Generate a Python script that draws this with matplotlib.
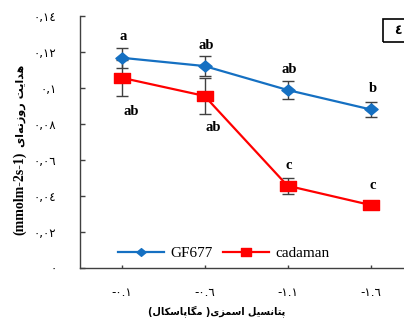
import matplotlib
matplotlib.use("Agg")
import matplotlib.pyplot as plt
from matplotlib.path import Path
from matplotlib.patches import Rectangle

# ---------------- data ----------------
categories = ["-٠.١", "-٠.٦", "-١.١", "-١.٦"]
gf677 = [0.1168, 0.1122, 0.0989, 0.0881]
gf677_err = [0.0056, 0.0055, 0.0048, 0.0042]
cadaman = [0.1057, 0.0956, 0.0457, 0.0350]
cadaman_err = [0.0100, 0.0100, 0.0045, 0.0015]
gf677_letters = ["a", "ab", "ab", "b"]
cadaman_letters = ["ab", "ab", "c", "c"]
y_ticks = [0, 0.02, 0.04, 0.06, 0.08, 0.10, 0.12, 0.14]
y_tick_labels = ["٠", "٠,٠٢", "٠,٠٤", "٠,٠٦", "٠,٠٨", "٠,١", "٠,١٢", "٠,١٤"]
series_names = ["GF677", "cadaman"]
x_label = "پتانسیل اسمزی( مگاپاسکال)"
y_label_fa = "هدایت روزنه‌ای"
y_label_en = "(mmolm-2s-1)"
panel_label = "٤"

# ------------- minimal Persian shaping for display -------------
FORMS = {
    '\u0627': ('\uFE8D', '\uFE8E', None, None),
    '\u062F': ('\uFEA9', '\uFEAA', None, None),
    '\u0631': ('\uFEAD', '\uFEAE', None, None),
    '\u0632': ('\uFEAF', '\uFEB0', None, None),
    '\u0648': ('\uFEED', '\uFEEE', None, None),
    '\u067E': ('\uFB56', '\uFB57', '\uFB58', '\uFB59'),
    '\u062A': ('\uFE95', '\uFE96', '\uFE97', '\uFE98'),
    '\u0646': ('\uFEE5', '\uFEE6', '\uFEE7', '\uFEE8'),
    '\u0633': ('\uFEB1', '\uFEB2', '\uFEB3', '\uFEB4'),
    '\u06CC': ('\uFBFC', '\uFBFD', '\uFBFE', '\uFBFF'),
    '\u0644': ('\uFEDD', '\uFEDE', '\uFEDF', '\uFEE0'),
    '\u0645': ('\uFEE1', '\uFEE2', '\uFEE3', '\uFEE4'),
    '\u06AF': ('\uFB92', '\uFB93', '\uFB94', '\uFB95'),
    '\u06A9': ('\uFB8E', '\uFB8F', '\uFB90', '\uFB91'),
    '\u0647': ('\uFEE9', '\uFEEA', '\uFEEB', '\uFEEC'),
}


def shape(s):
    out = []
    n = len(s)
    for i, c in enumerate(s):
        if c not in FORMS:
            out.append(c)
            continue
        prev = s[i - 1] if i > 0 else ''
        nxt = s[i + 1] if i + 1 < n else ''
        jp = prev in FORMS and FORMS[prev][2] is not None
        jn = FORMS[c][2] is not None and nxt in FORMS
        iso, fin, ini, med = FORMS[c]
        if jp and jn:
            out.append(med)
        elif jp:
            out.append(fin)
        elif jn:
            out.append(ini)
        else:
            out.append(iso)
    return ''.join(out).replace('\u200c', '')


def visual(s):
    return shape(s)[::-1].translate(str.maketrans('()', ')('))


# ---------------- figure ----------------
W, H = 404, 320
fig = plt.figure(figsize=(W / 100, H / 100), dpi=100)
ax = fig.add_axes([80 / W, 52 / H, 332 / W, 252 / H])

x = list(range(len(categories)))
blue = '#1570C2'
red = '#FF0000'
grey = '#404040'

ax.errorbar(x, gf677, yerr=gf677_err, fmt='none', ecolor=grey, elinewidth=1,
            capsize=4, capthick=1, zorder=2)
ax.errorbar(x, cadaman, yerr=cadaman_err, fmt='none', ecolor=grey, elinewidth=1,
            capsize=4, capthick=1, zorder=2)

diamond = Path([(0, 1), (1.2, 0), (0, -1), (-1.2, 0), (0, 1)],
               [Path.MOVETO, Path.LINETO, Path.LINETO, Path.LINETO, Path.CLOSEPOLY])
square = Path([(-1.4, -1), (1.4, -1), (1.4, 1), (-1.4, 1), (-1.4, -1)],
              [Path.MOVETO, Path.LINETO, Path.LINETO, Path.LINETO, Path.CLOSEPOLY])

ax.plot(x, gf677, color=blue, lw=1.6, marker=diamond, ms=9.5, mfc=blue, mec=blue,
        zorder=4, label=series_names[0])
ax.plot(x, cadaman, color=red, lw=1.6, marker=square, ms=11, mfc=red, mec=red,
        zorder=3, label=series_names[1])

ax.set_xlim(-0.5, 3.5)
ax.set_ylim(0, 0.14)
ax.set_yticks(y_ticks, y_tick_labels, family=['DejaVu Sans'], fontsize=8.5)
ax.set_xticks(x, categories, family=['DejaVu Sans'], fontsize=8.5)
ax.tick_params(axis='y', direction='in', length=3.6, width=1, color=grey, pad=17)
ax.tick_params(axis='x', direction='in', length=2.5, width=1, color=grey, pad=13)
for s in ['top', 'right']:
    ax.spines[s].set_visible(False)
for s in ['left', 'bottom']:
    ax.spines[s].set_color(grey)
    ax.spines[s].set_linewidth(1)

# significance letters
serif = ['Liberation Serif', 'DejaVu Serif']
for i, (v, t) in enumerate(zip(gf677, gf677_letters)):
    ax.annotate(t, (i, v), xytext=(1.5, 15), textcoords='offset points',
                ha='center', va='center', fontsize=10.5, fontweight='bold', family=serif)
cad_offsets = [(7, -24), (6, -23), (1, 14.5), (1.5, 14)]
for i, (v, t) in enumerate(zip(cadaman, cadaman_letters)):
    ax.annotate(t, (i, v), xytext=cad_offsets[i], textcoords='offset points',
                ha='center', va='center', fontsize=10.5, fontweight='bold', family=serif)

# legend
leg = ax.legend(loc='center left', bbox_to_anchor=(118 / W, 1 - 253 / H),
                bbox_transform=fig.transFigure, ncol=2, frameon=False,
                borderpad=0, borderaxespad=0, handlelength=3.0, handletextpad=0.4,
                columnspacing=0.7, markerscale=0.7,
                prop={'family': serif, 'size': 11})

# axis labels
fig.text(217 / W, 1 - 311 / H, visual(x_label), ha='center', va='center',
         fontsize=7, fontweight='bold', family=['DejaVu Sans'])
fig.text(20 / W, 1 - 193 / H, y_label_en, ha='center', va='center', rotation=90,
         fontsize=10, fontweight='bold', family=serif)
fig.text(21 / W, 1 - 106 / H, visual(y_label_fa), ha='center', va='center', rotation=90,
         fontsize=8, fontweight='bold', family=['DejaVu Sans'])

# panel label box
rect = Rectangle((383 / W, 1 - 42 / H), 30 / W, 23 / H, fill=False, edgecolor='black',
                 lw=1.2, transform=fig.transFigure, figure=fig)
fig.patches.append(rect)
fig.text(398 / W, 1 - 30 / H, panel_label, ha='center', va='center', fontsize=9,
         fontweight='bold', family=['DejaVu Sans'])

fig.savefig('out.png', dpi=100)
